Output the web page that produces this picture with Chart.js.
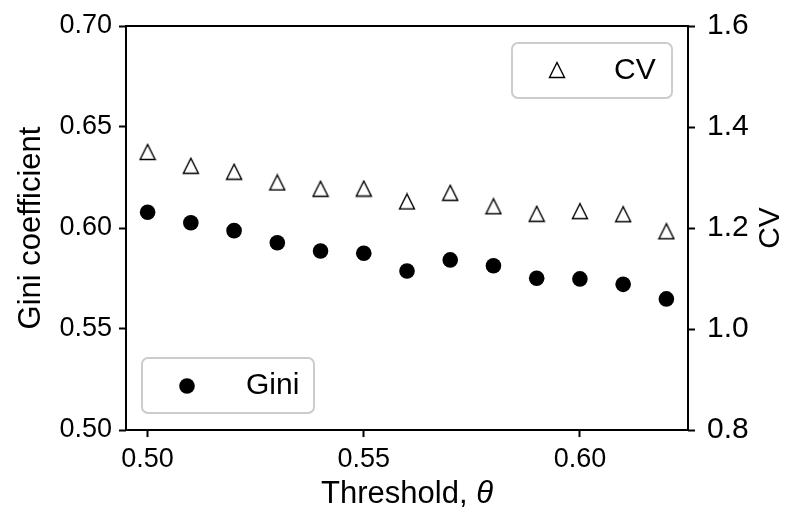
<!DOCTYPE html>
<html>
<head>
<meta charset="utf-8">
<script src="https://cdn.jsdelivr.net/npm/chart.js@4.4.1/dist/chart.umd.min.js"></script>
<style>
    html, body { margin: 0; padding: 0; background: #fff; }
    #wrap { width: 786px; height: 511px; }
</style>
</head>
<body>
<div id="wrap"><canvas id="grafico"></canvas></div>
<script>
const thresholds = [0.50, 0.51, 0.52, 0.53, 0.54, 0.55, 0.56, 0.57, 0.58, 0.59, 0.60, 0.61, 0.62];
const giniValues = [0.6078, 0.6026, 0.5987, 0.5927, 0.5886, 0.5875, 0.5787, 0.5842, 0.5813, 0.5751, 0.5748, 0.5721, 0.5649];
const cvValues = [1.3505, 1.3232, 1.3115, 1.2901, 1.2776, 1.2782, 1.2525, 1.2697, 1.2430, 1.2281, 1.2333, 1.2273, 1.1935];
const xTicks = [0.50, 0.55, 0.60];
const giniTicks = [0.50, 0.55, 0.60, 0.65, 0.70];
const cvTicks = [0.8, 1.0, 1.2, 1.4, 1.6];

const FONT = "'Liberation Sans', Arial, sans-serif";

// triangulo vazado no estilo do matplotlib ('^'), centrado no ponto
function criarTriangulo() {
    const c = document.createElement('canvas');
    c.width = 18;
    c.height = 18;
    const g = c.getContext('2d');
    g.beginPath();
    g.moveTo(9, 1.5);
    g.lineTo(1.5, 16.5);
    g.lineTo(16.5, 16.5);
    g.closePath();
    g.fillStyle = '#fff';
    g.fill();
    g.strokeStyle = '#000';
    g.lineWidth = 1.4;
    g.stroke();
    return c;
}
const triangulo = criarTriangulo();

function caixaLegenda(ctx, x, y, w, h) {
    ctx.beginPath();
    ctx.roundRect(x, y, w, h, 6);
    ctx.fillStyle = 'rgba(255,255,255,0.8)';
    ctx.fill();
    ctx.strokeStyle = '#cccccc';
    ctx.lineWidth = 2;
    ctx.stroke();
}

// largura/altura fixas das escalas para casar a area do grafico
function fixarEscala(tamanho) {
    return s => {
        if (s.isHorizontal()) {
            s.height = tamanho;
            s.paddingLeft = 0;
            s.paddingRight = 0;
        } else {
            s.width = tamanho;
            s.paddingTop = 0;
            s.paddingBottom = 0;
        }
    };
}

const extras = {
    id: 'extras',
    afterDatasetsDraw(chart) {
        const ctx = chart.ctx;
        const a = chart.chartArea;
        const meioY = (a.top + a.bottom) / 2;
        ctx.save();
        // moldura
        ctx.strokeStyle = '#000';
        ctx.lineWidth = 2;
        ctx.strokeRect(a.left, a.top, a.right - a.left, a.bottom - a.top);

        // legenda CV (canto superior direito)
        caixaLegenda(ctx, a.right - 176, a.top + 17, 160, 55);
        ctx.drawImage(triangulo, a.right - 140, a.top + 35);
        ctx.fillStyle = '#000';
        ctx.font = `30px ${FONT}`;
        ctx.textBaseline = 'middle';
        ctx.textAlign = 'left';
        ctx.fillText('CV', a.right - 74, a.top + 45);

        // legenda Gini (canto inferior esquerdo)
        caixaLegenda(ctx, a.left + 16, a.bottom - 72, 172, 55);
        ctx.beginPath();
        ctx.arc(a.left + 61, a.bottom - 44, 7.8, 0, Math.PI * 2);
        ctx.fillStyle = '#000';
        ctx.fill();
        ctx.fillText('Gini', a.left + 120, a.bottom - 44);

        // titulo do eixo x com theta em italico
        const yTitulo = 494;
        const parte1 = 'Threshold, ';
        const parte2 = '\u03B8';
        ctx.font = `31px ${FONT}`;
        const w1 = ctx.measureText(parte1).width;
        ctx.font = `italic 31px ${FONT}`;
        const w2 = ctx.measureText(parte2).width;
        const x0 = (a.left + a.right) / 2 - (w1 + w2) / 2;
        ctx.font = `31px ${FONT}`;
        ctx.fillText(parte1, x0, yTitulo);
        ctx.font = `italic 31px ${FONT}`;
        ctx.fillText(parte2, x0 + w1, yTitulo);

        // titulos dos eixos y (de baixo para cima)
        ctx.textAlign = 'center';
        ctx.save();
        ctx.translate(31, meioY);
        ctx.rotate(-Math.PI / 2);
        ctx.font = `31px ${FONT}`;
        ctx.fillText('Gini coefficient', 0, 0);
        ctx.restore();

        ctx.translate(771, meioY);
        ctx.rotate(-Math.PI / 2);
        ctx.font = `30px ${FONT}`;
        ctx.fillText('CV', 0, 0);
        ctx.restore();
    }
};

const ctx = document.getElementById('grafico').getContext('2d');
new Chart(ctx, {
    type: 'scatter',
    data: {
        datasets: [{
            label: 'Gini',
            data: thresholds.map((t, i) => ({ x: t, y: giniValues[i] })),
            yAxisID: 'y',
            pointStyle: 'circle',
            pointRadius: 7.8,
            pointHoverRadius: 7.8,
            backgroundColor: '#000',
            borderWidth: 0
        }, {
            label: 'CV',
            data: thresholds.map((t, i) => ({ x: t, y: cvValues[i] })),
            yAxisID: 'y1',
            pointStyle: triangulo,
            pointRadius: 9,
            pointHoverRadius: 9
        }]
    },
    options: {
        responsive: true,
        maintainAspectRatio: false,
        animation: false,
        events: [],
        layout: { padding: { top: 26, left: 0, right: 0, bottom: 0 } },
        plugins: { legend: { display: false }, tooltip: { enabled: false } },
        scales: {
            x: {
                type: 'linear',
                min: 0.495,
                max: 0.625,
                afterBuildTicks: s => { s.ticks = xTicks.map(v => ({ value: v })); },
                afterFit: fixarEscala(81),
                border: { display: false },
                grid: { drawOnChartArea: false, drawTicks: true, tickLength: 7, tickWidth: 2, tickColor: '#000' },
                ticks: { color: '#000', font: { family: FONT, size: 27 }, padding: 6, maxRotation: 0, callback: v => v.toFixed(2) }
            },
            y: {
                position: 'left',
                min: 0.50,
                max: 0.70,
                afterBuildTicks: s => { s.ticks = giniTicks.map(v => ({ value: v })); },
                afterFit: fixarEscala(126),
                border: { display: false },
                grid: { drawOnChartArea: false, drawTicks: true, tickLength: 7, tickWidth: 2, tickColor: '#000' },
                ticks: { color: '#000', font: { family: FONT, size: 27 }, padding: 7, callback: v => v.toFixed(2) }
            },
            y1: {
                position: 'right',
                min: 0.8,
                max: 1.6,
                afterBuildTicks: s => { s.ticks = cvTicks.map(v => ({ value: v })); },
                afterFit: fixarEscala(98),
                border: { display: false },
                grid: { drawOnChartArea: false, drawTicks: true, tickLength: 7, tickWidth: 2, tickColor: '#000' },
                ticks: { color: '#000', font: { family: FONT, size: 30 }, padding: 12, callback: v => v.toFixed(1) }
            }
        }
    },
    plugins: [extras]
});
</script>
</body>
</html>
